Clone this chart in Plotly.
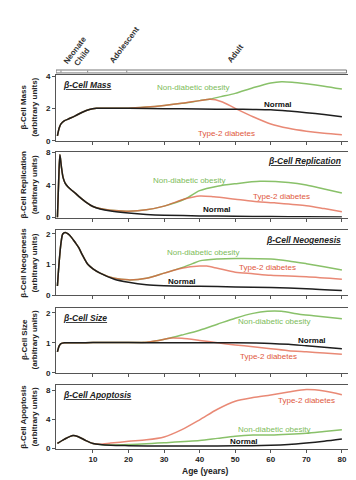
import plotly.graph_objects as go

# ---------------- DATA ----------------
# Panel 1: beta-cell mass
mass_age_normal = [0, 0.5, 1, 2, 3, 5, 7, 9, 11, 15, 20, 30, 40, 50, 55, 60, 65, 70, 75, 80]
mass_normal = [0.3, 0.8, 1.05, 1.25, 1.35, 1.55, 1.78, 1.95, 2.02, 2.03, 2.02, 2.0, 1.98, 1.96, 1.95, 1.93, 1.85, 1.75, 1.63, 1.5]
mass_age_t2d = [0, 0.5, 1, 2, 3, 5, 7, 9, 11, 15, 20, 25, 30, 35, 40, 43, 46, 50, 55, 60, 65, 70, 75, 80]
mass_t2d = [0.3, 0.8, 1.05, 1.25, 1.35, 1.55, 1.78, 1.95, 2.02, 2.03, 2.03, 2.1, 2.2, 2.33, 2.5, 2.58, 2.45, 2.02, 1.5, 1.05, 0.78, 0.6, 0.47, 0.38]
mass_age_obese = [0, 0.5, 1, 2, 3, 5, 7, 9, 11, 15, 20, 25, 30, 35, 40, 43, 46, 50, 55, 60, 63, 66, 70, 75, 80]
mass_obese = [0.3, 0.8, 1.05, 1.25, 1.35, 1.55, 1.78, 1.95, 2.02, 2.03, 2.03, 2.1, 2.2, 2.33, 2.5, 2.6, 2.75, 2.95, 3.3, 3.6, 3.68, 3.65, 3.55, 3.4, 3.22]

# Panel 2: beta-cell replication
rep_age_normal = [0, 0.35, 0.7, 1.1, 1.6, 2.2, 3, 4, 5, 6, 8, 10, 12, 15, 20, 25, 30, 40, 50, 60, 70, 80]
rep_normal = [0, 4.5, 7.7, 6.3, 4.9, 4.2, 3.75, 3.35, 3.0, 2.6, 1.9, 1.35, 1.05, 0.8, 0.55, 0.38, 0.28, 0.2, 0.15, 0.12, 0.08, 0.05]
rep_age_t2d = [0, 0.35, 0.7, 1.1, 1.6, 2.2, 3, 4, 5, 6, 8, 10, 12, 15, 20, 25, 30, 36, 40, 44, 50, 55, 61, 70, 75, 80]
rep_t2d = [0, 4.5, 7.7, 6.3, 4.9, 4.2, 3.75, 3.35, 3.0, 2.6, 1.9, 1.35, 1.1, 0.88, 0.78, 0.95, 1.4, 2.3, 2.65, 2.55, 2.25, 2.0, 1.8, 1.45, 1.1, 0.72]
rep_age_obese = [0, 0.35, 0.7, 1.1, 1.6, 2.2, 3, 4, 5, 6, 8, 10, 12, 15, 20, 25, 30, 36, 40, 45, 50, 57, 65, 70, 75, 80]
rep_obese = [0, 4.5, 7.7, 6.3, 4.9, 4.2, 3.75, 3.35, 3.0, 2.6, 1.9, 1.35, 1.1, 0.88, 0.78, 0.95, 1.4, 2.3, 3.3, 3.85, 4.15, 4.45, 4.3, 4.0, 3.5, 3.0]

# Panel 3: beta-cell neogenesis
neo_age_normal = [0, 0.5, 1, 1.5, 2.2, 3, 4, 5, 6, 7, 8.6, 10, 12, 16, 20, 25, 30, 40, 50, 60, 70, 80]
neo_normal = [0.3, 1.1, 1.7, 2.0, 2.05, 2.0, 1.88, 1.72, 1.55, 1.32, 1.0, 0.86, 0.72, 0.52, 0.42, 0.34, 0.31, 0.29, 0.27, 0.25, 0.21, 0.15]
neo_age_t2d = [0, 0.5, 1, 1.5, 2.2, 3, 4, 5, 6, 7, 8.6, 10, 12, 16, 20, 25, 30, 35, 40, 42, 45, 50, 55, 60, 70, 80]
neo_t2d = [0.3, 1.1, 1.7, 2.0, 2.05, 2.0, 1.88, 1.72, 1.55, 1.32, 1.0, 0.86, 0.72, 0.55, 0.5, 0.55, 0.72, 0.88, 0.95, 0.95, 0.88, 0.75, 0.7, 0.65, 0.6, 0.52]
neo_age_obese = [0, 0.5, 1, 1.5, 2.2, 3, 4, 5, 6, 7, 8.6, 10, 12, 16, 20, 25, 30, 35, 38, 40, 45, 50, 60, 65, 70, 75, 80]
neo_obese = [0.3, 1.1, 1.7, 2.0, 2.05, 2.0, 1.88, 1.72, 1.55, 1.32, 1.0, 0.86, 0.72, 0.55, 0.5, 0.55, 0.72, 0.9, 1.03, 1.12, 1.18, 1.2, 1.18, 1.12, 1.03, 0.93, 0.82]

# Panel 4: beta-cell size
size_age_normal = [0, 0.5, 1, 2, 5, 10, 20, 30, 40, 50, 60, 65, 70, 75, 80]
size_normal = [0.7, 0.9, 0.97, 1.0, 1.0, 1.01, 1.01, 1.0, 1.0, 1.0, 0.98, 0.95, 0.9, 0.85, 0.8]
size_age_t2d = [0, 0.5, 1, 2, 5, 10, 20, 25, 28, 32, 35, 40, 45, 50, 55, 60, 65, 70, 75, 80]
size_t2d = [0.7, 0.9, 0.97, 1.0, 1.0, 1.01, 1.01, 1.02, 1.07, 1.16, 1.15, 1.08, 1.0, 0.93, 0.87, 0.8, 0.74, 0.7, 0.66, 0.62]
size_age_obese = [0, 0.5, 1, 2, 5, 10, 20, 25, 28, 32, 35, 40, 45, 50, 55, 59, 63, 68, 72, 76, 80]
size_obese = [0.7, 0.9, 0.97, 1.0, 1.0, 1.01, 1.01, 1.02, 1.07, 1.17, 1.26, 1.42, 1.62, 1.82, 1.98, 2.05, 2.05, 1.95, 1.9, 1.85, 1.8]

# Panel 5: beta-cell apoptosis
apo_age_normal = [0, 2, 4.4, 6, 8, 10, 12, 15, 20, 30, 40, 50, 60, 65, 70, 75, 80]
apo_normal = [0.7, 1.3, 1.8, 1.6, 1.1, 0.7, 0.55, 0.45, 0.4, 0.35, 0.35, 0.38, 0.45, 0.55, 0.75, 1.0, 1.3]
apo_age_t2d = [0, 2, 4.4, 6, 8, 10, 12, 15, 20, 25, 30, 35, 40, 45, 50, 55, 60, 65, 70, 75, 80]
apo_t2d = [0.7, 1.3, 1.8, 1.6, 1.1, 0.7, 0.6, 0.75, 1.0, 1.2, 1.6, 2.6, 3.95, 5.4, 6.5, 7.0, 7.35, 7.75, 8.1, 7.9, 7.4]
apo_age_obese = [0, 2, 4.4, 6, 8, 10, 12, 15, 20, 30, 40, 45, 50, 55, 60, 65, 70, 75, 80]
apo_obese = [0.7, 1.3, 1.8, 1.6, 1.1, 0.7, 0.55, 0.5, 0.55, 0.8, 1.1, 1.4, 1.7, 1.85, 1.85, 1.95, 2.1, 2.35, 2.6]

panel_titles = ["β-Cell Mass", "β-Cell Replication", "β-Cell Neogenesis", "β-Cell Size", "β-Cell Apoptosis"]
y_titles = ["β-Cell Mass", "β-Cell Replication", "β-Cell Neogenesis", "β-Cell Size", "β-Cell Apoptosis"]
y_tick_vals = [[0, 2, 4], [0, 4, 8], [0, 1, 2], [0, 1, 2], [0, 4, 8]]
x_tick_vals = [10, 20, 30, 40, 50, 60, 70, 80]
stage_labels = ["Neonate", "Child", "Adolescent", "Adult"]
stage_marks = [1, 8.5, 19.5]

# ---------------- LAYOUT / STYLE ----------------
W, H = 356, 480
FONT = "Arial, Liberation Sans, sans-serif"
GREEN = "#7dbb5a"
RED = "#e0583c"
BLACK = "#1e1e1e"
FRAME = "#555555"

XL, XR = 48, 341
panel_px = [(65, 132), (143, 210), (223, 289), (302, 368), (380, 445)]
y_ranges = [[0, 4.1], [0, 8.1], [0, 2.12], [0, 2.16], [0, 8.77]]
x_range = [-0.4, 82]

def px(x):
    return x / W

def py(y):
    return 1 - y / H

series = [
    (mass_age_normal, mass_normal, mass_age_t2d, mass_t2d, mass_age_obese, mass_obese),
    (rep_age_normal, rep_normal, rep_age_t2d, rep_t2d, rep_age_obese, rep_obese),
    (neo_age_normal, neo_normal, neo_age_t2d, neo_t2d, neo_age_obese, neo_obese),
    (size_age_normal, size_normal, size_age_t2d, size_t2d, size_age_obese, size_obese),
    (apo_age_normal, apo_normal, apo_age_t2d, apo_t2d, apo_age_obese, apo_obese),
]

# label placements (age, value) per panel: obesity, t2d, normal
label_pos = [
    [(38, 3.3), (47.5, 0.45), (62, 2.27)],
    [(37, 4.6), (63, 2.6), (45, 1.0)],
    [(41, 1.39), (59, 0.9), (35, 0.45)],
    [(61, 1.7), (59.5, 0.54), (71.5, 1.08)],
    [(61, 2.55), (70, 6.6), (52.5, 1.0)],
]
title_left = [True, False, False, True, True]

fig = go.Figure()
annotations = []
layout = {}

for i in range(5):
    n = "" if i == 0 else str(i + 1)
    xa, ya = "x" + n, "y" + n
    age_n, val_n, age_t, val_t, age_o, val_o = series[i]
    fig.add_trace(go.Scatter(x=age_o, y=val_o, mode="lines", line=dict(color=GREEN, width=1.5, shape="spline", smoothing=0.8),
                             opacity=0.9, xaxis=xa, yaxis=ya, showlegend=False))
    fig.add_trace(go.Scatter(x=age_t, y=val_t, mode="lines", line=dict(color=RED, width=1.5, shape="spline", smoothing=0.8),
                             opacity=0.7, xaxis=xa, yaxis=ya, showlegend=False))
    fig.add_trace(go.Scatter(x=age_n, y=val_n, mode="lines", line=dict(color=BLACK, width=1.5, shape="spline", smoothing=0.8),
                             xaxis=xa, yaxis=ya, showlegend=False))
    top, bot = panel_px[i]
    layout["xaxis" + n] = dict(
        domain=[px(XL), px(XR)], anchor=ya, range=x_range, tickvals=x_tick_vals,
        ticks="outside", ticklen=3, tickcolor=FRAME, showline=True, linecolor=FRAME, linewidth=1,
        mirror=True, showgrid=False, zeroline=False, showticklabels=(i == 4),
        tickfont=dict(family=FONT, size=8, color="#222", weight="bold"),
    )
    layout["yaxis" + n] = dict(
        domain=[py(bot), py(top)], anchor=xa, range=y_ranges[i], tickvals=y_tick_vals[i],
        ticks="outside", ticklen=3, tickcolor=FRAME, showline=True, linecolor=FRAME, linewidth=1,
        mirror=True, showgrid=False, zeroline=False,
        tickfont=dict(family=FONT, size=8, color="#222", weight="bold"),
    )
    annotations.append(dict(
        text="<b><i>" + panel_titles[i] + "</i></b>", xref="paper", yref="paper",
        x=px(53) if title_left[i] else px(335), xanchor="left" if title_left[i] else "right",
        y=py(top + 10), yanchor="middle", showarrow=False,
        font=dict(family=FONT, size=8.5, color="#222", lineposition="under"),
    ))
    annotations.append(dict(
        text="<b>" + y_titles[i] + "<br>(arbitrary units)</b>", xref="paper", yref="paper",
        x=px(21), y=py((top + bot) / 2), xanchor="center", yanchor="middle", textangle=-90,
        showarrow=False, font=dict(family=FONT, size=8, color="#222"),
    ))
    (ox, oy), (tx, ty), (nx, ny) = label_pos[i]
    annotations.append(dict(text="Non-diabetic obesity", x=ox, y=oy, xref=xa, yref=ya, showarrow=False,
                            font=dict(family=FONT, size=8, color=GREEN)))
    annotations.append(dict(text="Type-2 diabetes", x=tx, y=ty, xref=xa, yref=ya, showarrow=False,
                            font=dict(family=FONT, size=8, color=RED)))
    annotations.append(dict(text="<b>Normal</b>", x=nx, y=ny, xref=xa, yref=ya, showarrow=False,
                            font=dict(family=FONT, size=8, color="#111")))

annotations.append(dict(text="<b>Age (years)</b>", xref="paper", yref="paper", x=px(197), y=py(468),
                        yanchor="middle", showarrow=False, font=dict(family=FONT, size=8.5, color="#222")))

stage_centers = [(66.7, 40), (73.5, 47), (116, 35), (227.5, 43)]
for lab, (cx, cy) in zip(stage_labels, stage_centers):
    annotations.append(dict(text="<b>" + lab + "</b>", xref="paper", yref="paper", x=px(cx), y=py(cy),
                            xanchor="center", yanchor="middle", textangle=-53, showarrow=False,
                            font=dict(family=FONT, size=8, color="#333")))

shapes = [dict(type="rect", xref="x", yref="paper", x0=-0.4, x1=81.3, y0=py(63), y1=py(60),
               line=dict(color="#777", width=1))]
for m in stage_marks + [81.3]:
    shapes.append(dict(type="line", xref="x", yref="paper", x0=m, x1=m, y0=py(62.5), y1=py(60.5),
                       line=dict(color="#888", width=1)))

fig.update_layout(
    width=W, height=H, margin=dict(l=0, r=0, t=0, b=0),
    paper_bgcolor="white", plot_bgcolor="white",
    annotations=annotations, shapes=shapes, **layout,
)

fig.write_html("out.html")
